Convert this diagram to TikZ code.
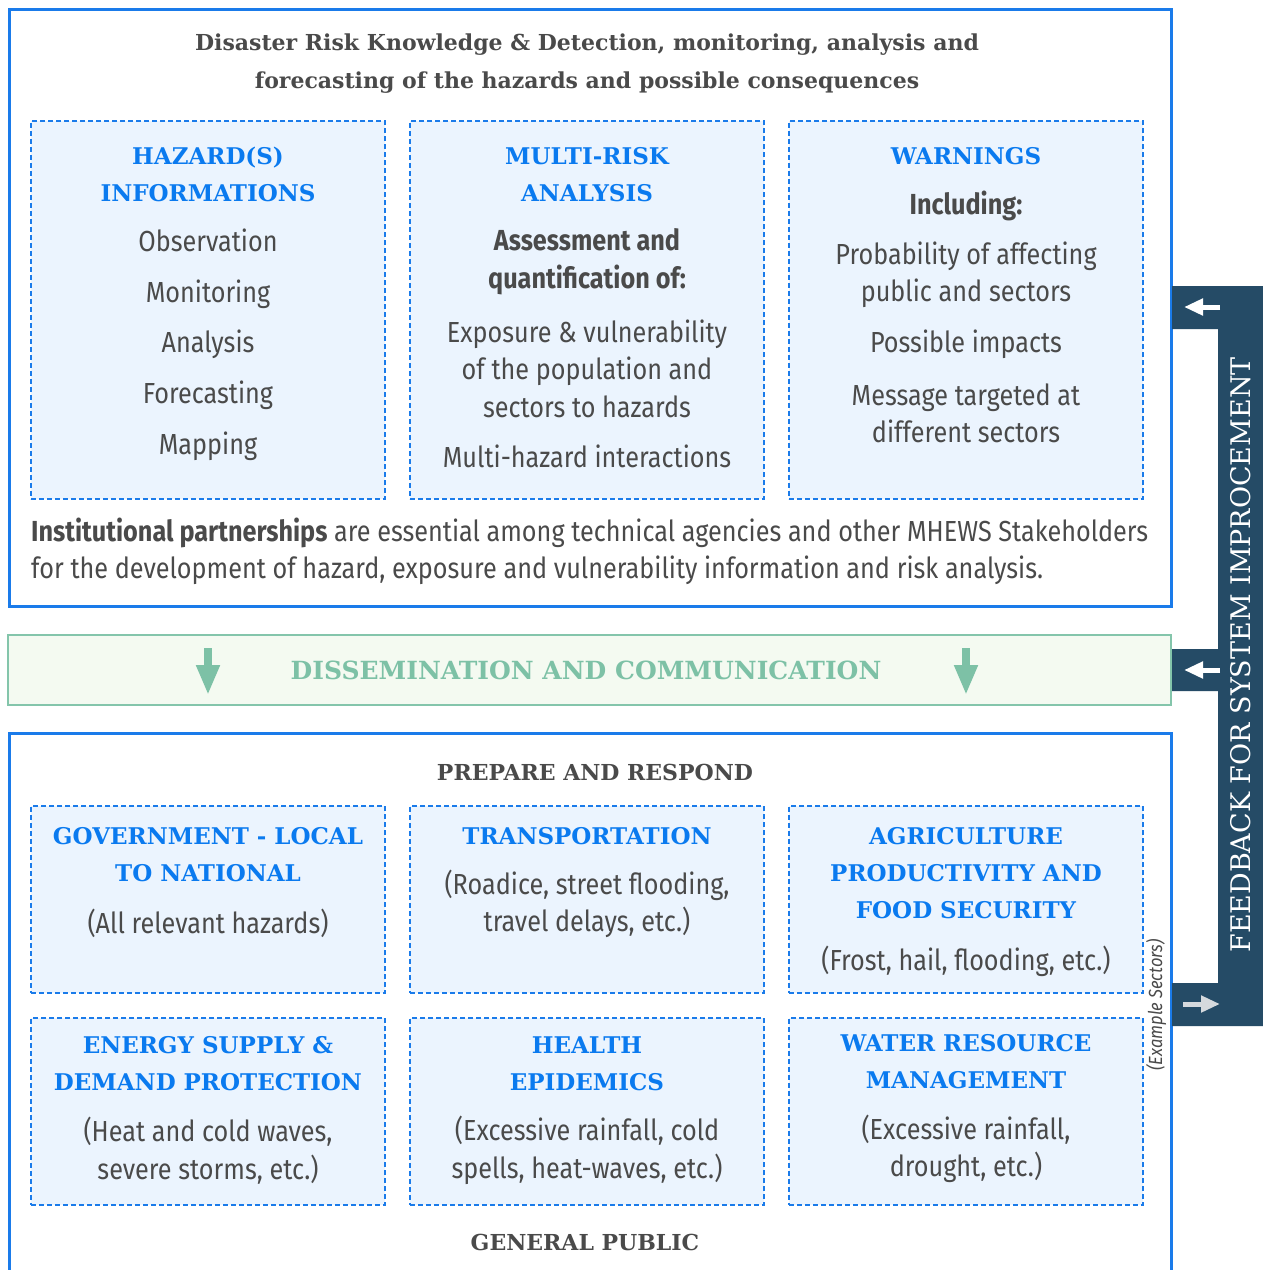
\documentclass[tikz,border=0pt]{standalone}
\usepackage{fontspec}
\setmainfont{Fira Sans}[FakeStretch=0.87]
\newfontfamily\slabfont{DejaVu Serif}
\usetikzlibrary{arrows.meta}

\definecolor{frameblue}{HTML}{1A7BEA}
\definecolor{headblue}{HTML}{0A7AEF}
\definecolor{boxfill}{HTML}{EBF4FE}
\definecolor{textgray}{HTML}{4A4A4A}
\definecolor{greenfill}{HTML}{F4FAF1}
\definecolor{greenline}{HTML}{84C5AB}
\definecolor{greentext}{HTML}{7DC1A6}
\definecolor{navy}{HTML}{254B66}
\definecolor{arrowgray}{HTML}{D5D9DD}

\tikzset{
    frame/.style={draw=frameblue, line width=3pt},
    sectorbox/.style={draw=frameblue, dash pattern=on 5pt off 3pt, line width=1.3pt,
        fill=boxfill, rectangle, minimum width=354pt, inner sep=0pt},
    head/.style={text=headblue, font=\slabfont\bfseries\fontsize{23}{37}\selectfont, align=center},
    body/.style={text=textgray, font=\fontsize{29}{37.5}\selectfont, align=center},
    title/.style={text=textgray, font=\slabfont\bfseries\fontsize{22}{38}\selectfont, align=center},
    dnarrow/.style={-{Triangle[length=30pt, width=22pt]}, line width=8pt, draw=greentext},
    fbarrow/.style={-{Triangle[length=19pt, width=16pt]}, line width=5pt}
}

\begin{document}
\begin{tikzpicture}[x=1pt, y=-1pt, every node/.style={inner sep=0pt}]
    \useasboundingbox[fill=white] (0,0) rectangle (1263,1270);

    % Frames
    \draw[frame] (9,9) rectangle (1171,606);
    \draw[draw=greenline, fill=greenfill, line width=2.5pt] (8,635) rectangle (1171,705);
    \draw[frame] (9,1275) -- (9,733) -- (1171,733) -- (1171,1275);

    % Feedback bar
    \fill[navy] (1172,286) -- (1263,286) -- (1263,1026) -- (1172,1026) -- (1172,983)
        -- (1218,983) -- (1218,691) -- (1172,691) -- (1172,649) -- (1218,649)
        -- (1218,329) -- (1172,329) -- cycle;

    % Sector boxes
    \node[sectorbox, minimum height=378pt] at (208, 310) (hzbox) {};
    \node[sectorbox, minimum height=378pt] at (587, 310) (mrbox) {};
    \node[sectorbox, minimum height=378pt] at (966, 310) (wnbox) {};
    \node[sectorbox, minimum height=187pt] at (208, 899.5) (govbox) {};
    \node[sectorbox, minimum height=187pt] at (587, 899.5) (trbox) {};
    \node[sectorbox, minimum height=187pt] at (966, 899.5) (agbox) {};
    \node[sectorbox, minimum height=187pt] at (208, 1111.5) (enbox) {};
    \node[sectorbox, minimum height=187pt] at (587, 1111.5) (hebox) {};
    \node[sectorbox, minimum height=187pt] at (966, 1111.5) (wrbox) {};

    % Top part
    \node[title] at (587, 64) (knowtitle)
        {Disaster Risk Knowledge \& Detection, monitoring, analysis and\\forecasting of the hazards and possible consequences};

    \node[head] at (208, 174.5) (hzhead) {HAZARD(S)\\INFORMATIONS};
    \node[body, font=\fontsize{29}{50.7}\selectfont] at (208, 344.5) (hzlist)
        {Observation\\Monitoring\\Analysis\\Forecasting\\Mapping};

    \node[head] at (587, 174.5) (mrhead) {MULTI-RISK\\ANALYSIS};
    \node[body, font=\bfseries\fontsize{29}{37.5}\selectfont] at (587, 261.5) (mrsub)
        {Assessment and\\quantification of:};
    \node[body] at (587, 368.5) (mrexp) {Exposure \& vulnerability\\of the population and\\sectors to hazards};
    \node[body] at (587, 456) (mrint) {Multi-hazard interactions};

    \node[head] at (966, 156) (wnhead) {WARNINGS};
    \node[body, font=\bfseries\fontsize{29}{37.5}\selectfont] at (966, 206) (wnsub) {Including:};
    \node[body] at (966, 275) (wnprob) {Probability of affecting\\public and sectors};
    \node[body] at (966, 344) (wnimp) {Possible impacts};
    \node[body] at (966, 413.5) (wnmsg) {Message targeted at\\different sectors};

    \node[body, align=left, anchor=west] at (31, 551.5) (partner)
        {\textbf{Institutional partnerships} are essential among technical agencies and other MHEWS Stakeholders\\
         for the development of hazard, exposure and vulnerability information and risk analysis.};

    % Dissemination
    \node[text=greentext, font=\slabfont\bfseries\fontsize{25}{30}\selectfont] at (586, 670) (dissem)
        {DISSEMINATION AND COMMUNICATION};
    \coordinate (dla) at (208, 648);
    \coordinate (dlb) at (208, 695);
    \coordinate (dra) at (966, 648);
    \coordinate (drb) at (966, 695);
    \draw[dnarrow] (dla) -- (dlb);
    \draw[dnarrow] (dra) -- (drb);

    % Bottom part
    \node[title] at (595, 772) (prephead) {PREPARE AND RESPOND};

    \node[head] at (208, 854.5) (govhead) {GOVERNMENT - LOCAL\\TO NATIONAL};
    \node[body] at (208, 923) (govtext) {(All relevant hazards)};

    \node[head] at (587, 836) (trhead) {TRANSPORTATION};
    \node[body] at (587, 904) (trtext) {(Roadice, street flooding,\\travel delays, etc.)};

    \node[head] at (966, 873) (aghead) {AGRICULTURE\\PRODUCTIVITY AND\\FOOD SECURITY};
    \node[body] at (966, 961) (agtext) {(Frost, hail, flooding, etc.)};

    \node[head] at (208, 1063.5) (enhead) {ENERGY SUPPLY \&\\DEMAND PROTECTION};
    \node[body] at (208, 1150.5) (entext) {(Heat and cold waves,\\severe storms, etc.)};

    \node[head] at (587, 1063.5) (hehead) {HEALTH\\EPIDEMICS};
    \node[body] at (587, 1150.5) (hetext) {(Excessive rainfall, cold\\spells, heat-waves, etc.)};

    \node[head] at (966, 1062) (wrhead) {WATER RESOURCE\\MANAGEMENT};
    \node[body] at (966, 1149) (wrtext) {(Excessive rainfall,\\drought, etc.)};

    \node[title] at (585, 1242) (pubhead) {GENERAL PUBLIC};

    \node[text=textgray, font=\itshape\fontsize{19}{22}\selectfont, rotate=90] at (1156, 1005) (examples)
        {(Example Sectors)};

    % Feedback
    \node[text=white, font=\slabfont\fontsize{27}{34}\selectfont, rotate=90] at (1241, 655) (feedback)
        {FEEDBACK FOR SYSTEM IMPROCEMENT};
    \coordinate (fta) at (1220, 307);
    \coordinate (ftb) at (1184, 307);
    \coordinate (fma) at (1220, 670);
    \coordinate (fmb) at (1184, 670);
    \coordinate (fba) at (1183, 1004);
    \coordinate (fbb) at (1220, 1004);
    \draw[fbarrow, draw=white] (fta) -- (ftb);
    \draw[fbarrow, draw=white] (fma) -- (fmb);
    \draw[fbarrow, draw=arrowgray] (fba) -- (fbb);
\end{tikzpicture}
\end{document}
